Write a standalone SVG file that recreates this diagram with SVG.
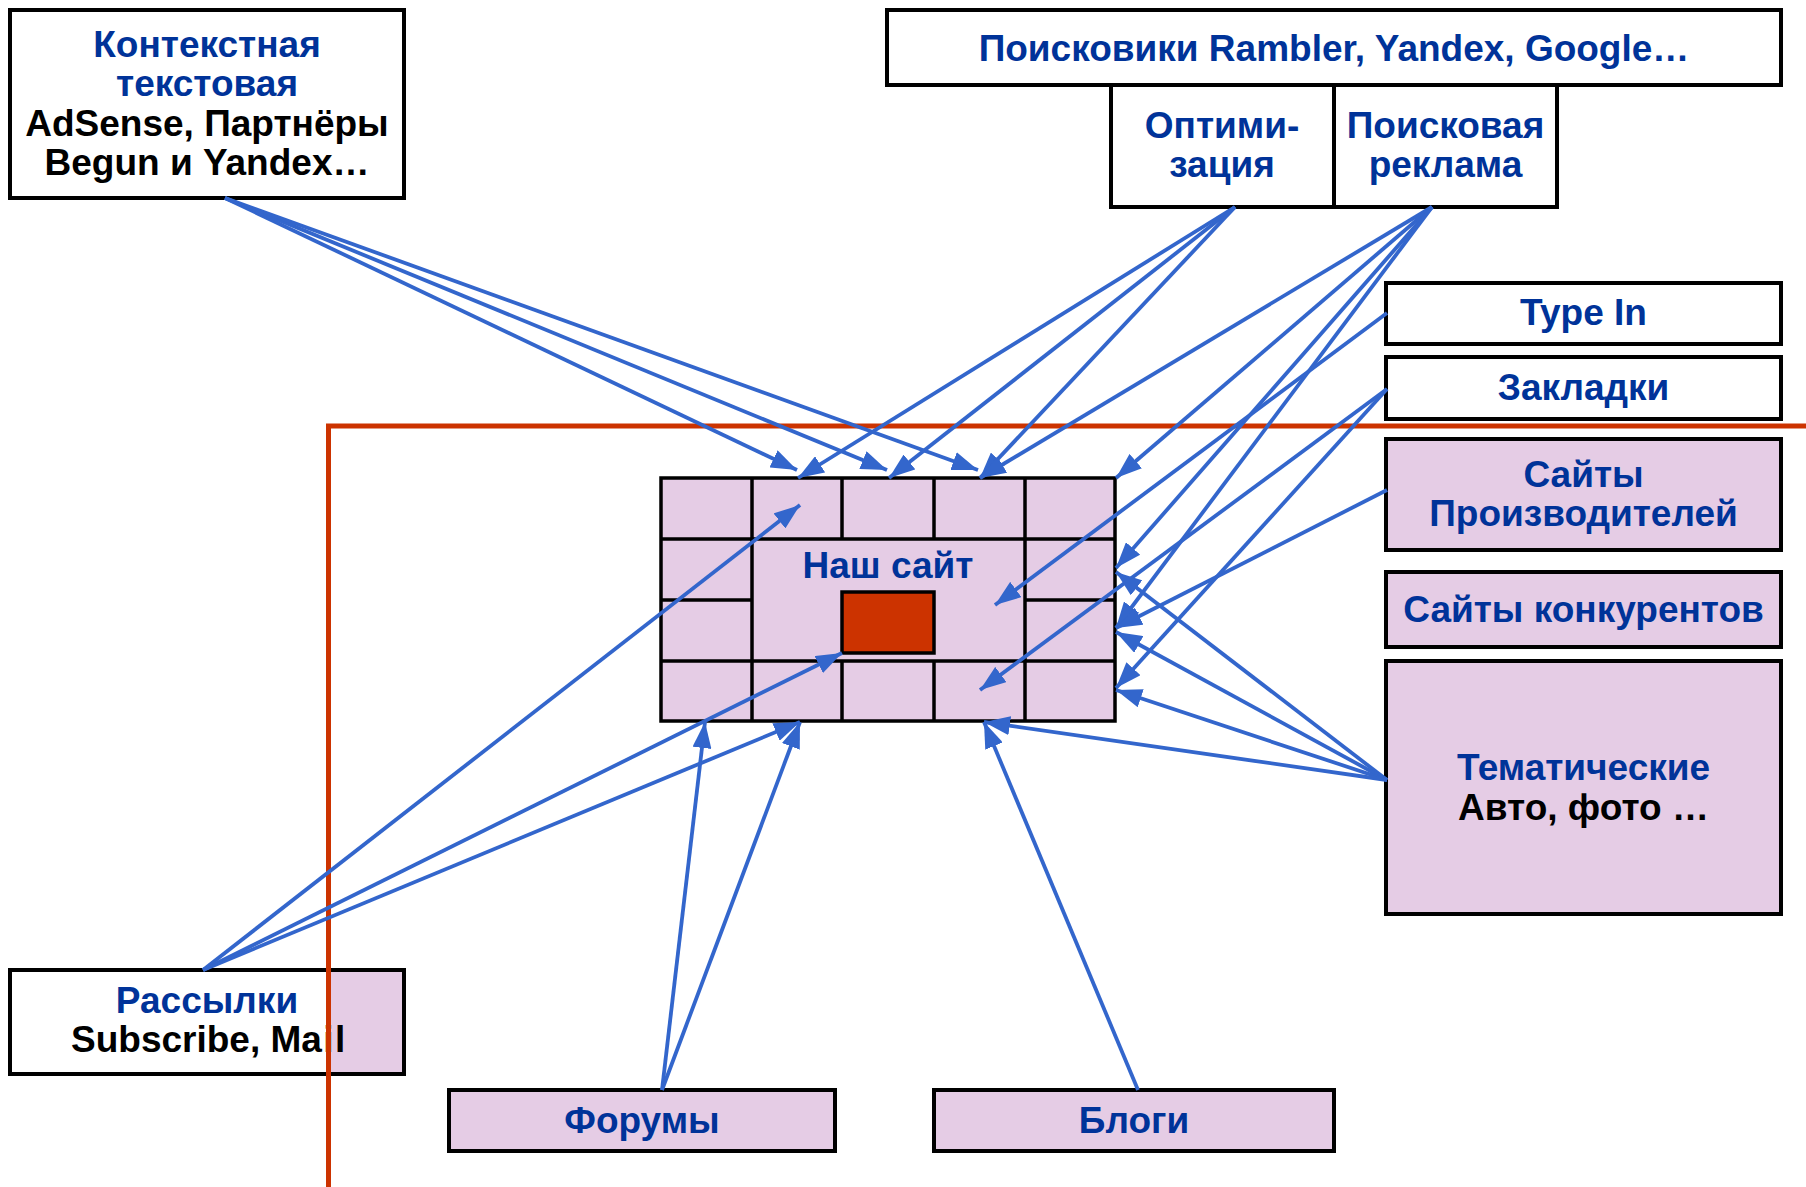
<svg xmlns="http://www.w3.org/2000/svg" width="1806" height="1187" viewBox="0 0 1806 1187">
<style>
.box{fill:#ffffff;stroke:#000000;stroke-width:4}
.lav{fill:#E5CCE5;stroke:#000000;stroke-width:4}
.cell{fill:none;stroke:#000000;stroke-width:3.5}
text{font-family:"Liberation Sans",Arial,Helvetica,sans-serif;font-weight:bold;font-size:37px;text-anchor:middle}
.b{fill:#003399}
.k{fill:#000000}
.con line{stroke:#3366CC;stroke-width:3.8;marker-end:url(#arr)}
.frame{fill:none;stroke:#CC3300;stroke-width:5}
</style>
<defs>
<marker id="arr" markerUnits="userSpaceOnUse" markerWidth="26" markerHeight="19" viewBox="0 0 26 19" refX="26" refY="9.5" orient="auto">
<path d="M0,0 L26,9.5 L0,19 Z" fill="#3366CC"/>
</marker>
</defs>
<rect width="1806" height="1187" fill="#ffffff"/>

<g id="n-mailing">
<rect x="10" y="970" width="394" height="104" fill="#ffffff"/>
<rect x="328" y="970" width="76" height="104" fill="#E5CCE5"/>
<rect x="10" y="970" width="394" height="104" fill="none" stroke="#000" stroke-width="4"/>
<text class="b" x="207" y="1013">Рассылки</text>
<text class="k" x="207" y="1052"><tspan x="71" style="text-anchor:start">Subscribe, Ma</tspan><tspan x="323.3" style="text-anchor:start">i</tspan><tspan x="335" style="text-anchor:start">l</tspan></text>
</g>

<g id="frame">
<path class="frame" d="M328.5,1190 V426 H1810"/>
</g>

<g id="n-context">
<rect class="box" x="10" y="10" width="394" height="188"/>
<text class="b" x="207" y="57">Контекстная</text>
<text class="b" x="207" y="96">текстовая</text>
<text class="k" x="207" y="136">AdSense, Партнёры</text>
<text class="k" x="207" y="175">Begun и Yandex…</text>
</g>

<g id="n-search">
<rect class="box" x="887" y="10" width="894" height="75"/>
<text class="b" x="1334" y="61">Поисковики Rambler, Yandex, Google…</text>
</g>

<g id="n-optim">
<rect class="box" x="1111" y="85" width="223" height="122"/>
<text class="b" x="1222" y="138">Оптими-</text>
<text class="b" x="1222" y="177">зация</text>
</g>

<g id="n-searchads">
<rect class="box" x="1334" y="85" width="223" height="122"/>
<text class="b" x="1445.5" y="138">Поисковая</text>
<text class="b" x="1445.5" y="177">реклама</text>
</g>

<g id="n-typein">
<rect class="box" x="1386" y="283" width="395" height="61"/>
<text class="b" x="1583.5" y="325">Type In</text>
</g>

<g id="n-bookmarks">
<rect class="box" x="1386" y="357" width="395" height="62"/>
<text class="b" x="1583.5" y="400">Закладки</text>
</g>

<g id="n-producers">
<rect class="lav" x="1386" y="439" width="395" height="111"/>
<text class="b" x="1583.5" y="487">Сайты</text>
<text class="b" x="1583.5" y="526">Производителей</text>
</g>

<g id="n-competitors">
<rect class="lav" x="1386" y="572" width="395" height="75"/>
<text class="b" x="1583.5" y="622">Сайты конкурентов</text>
</g>

<g id="n-thematic">
<rect class="lav" x="1386" y="661" width="395" height="253"/>
<text class="b" x="1583.5" y="780">Тематические</text>
<text class="k" x="1583.5" y="820">Авто, фото …</text>
</g>

<g id="n-forums">
<rect class="lav" x="449" y="1090" width="386" height="61"/>
<text class="b" x="642" y="1133">Форумы</text>
</g>

<g id="n-blogs">
<rect class="lav" x="934" y="1090" width="400" height="61"/>
<text class="b" x="1134" y="1133">Блоги</text>
</g>

<g id="n-site">
<rect x="661" y="478" width="454" height="243" fill="#E5CCE5"/>
<path class="cell" d="M661,539 H1115 M661,661 H1115 M661,600 H752 M1025,600 H1115 M752,478 V721 M1025,478 V721 M842,478 V539 M934,478 V539 M842,661 V721 M934,661 V721"/>
<rect x="661" y="478" width="454" height="243" class="cell"/>
<rect x="842" y="592" width="92" height="61" fill="#CC3300" stroke="#000" stroke-width="3.5"/>
<text class="b" x="888" y="578">Наш сайт</text>
</g>

<g id="connectors" class="con">
<line x1="225" y1="198" x2="797" y2="470"/>
<line x1="225" y1="198" x2="887" y2="470"/>
<line x1="225" y1="198" x2="978" y2="470"/>
<line x1="1235" y1="207" x2="798" y2="478"/>
<line x1="1235" y1="207" x2="889" y2="478"/>
<line x1="1235" y1="207" x2="980" y2="478"/>
<line x1="1432" y1="207" x2="980" y2="478"/>
<line x1="1432" y1="207" x2="1116" y2="478"/>
<line x1="1432" y1="207" x2="1116" y2="568"/>
<line x1="1432" y1="207" x2="1116" y2="628"/>
<line x1="1387" y1="313" x2="995" y2="605"/>
<line x1="1387" y1="389" x2="980" y2="690"/>
<line x1="1387" y1="389" x2="1116" y2="688"/>
<line x1="1387" y1="490" x2="1116" y2="628"/>
<line x1="1387" y1="780" x2="1116" y2="572"/>
<line x1="1387" y1="780" x2="1116" y2="632"/>
<line x1="1387" y1="780" x2="1116" y2="690"/>
<line x1="1387" y1="780" x2="984" y2="722"/>
<line x1="1138" y1="1090" x2="984" y2="722"/>
<line x1="662" y1="1090" x2="705" y2="722"/>
<line x1="662" y1="1090" x2="800" y2="722"/>
<line x1="203" y1="970" x2="800" y2="505"/>
<line x1="203" y1="970" x2="842" y2="653"/>
<line x1="203" y1="970" x2="800" y2="722"/>
</g>
</svg>
